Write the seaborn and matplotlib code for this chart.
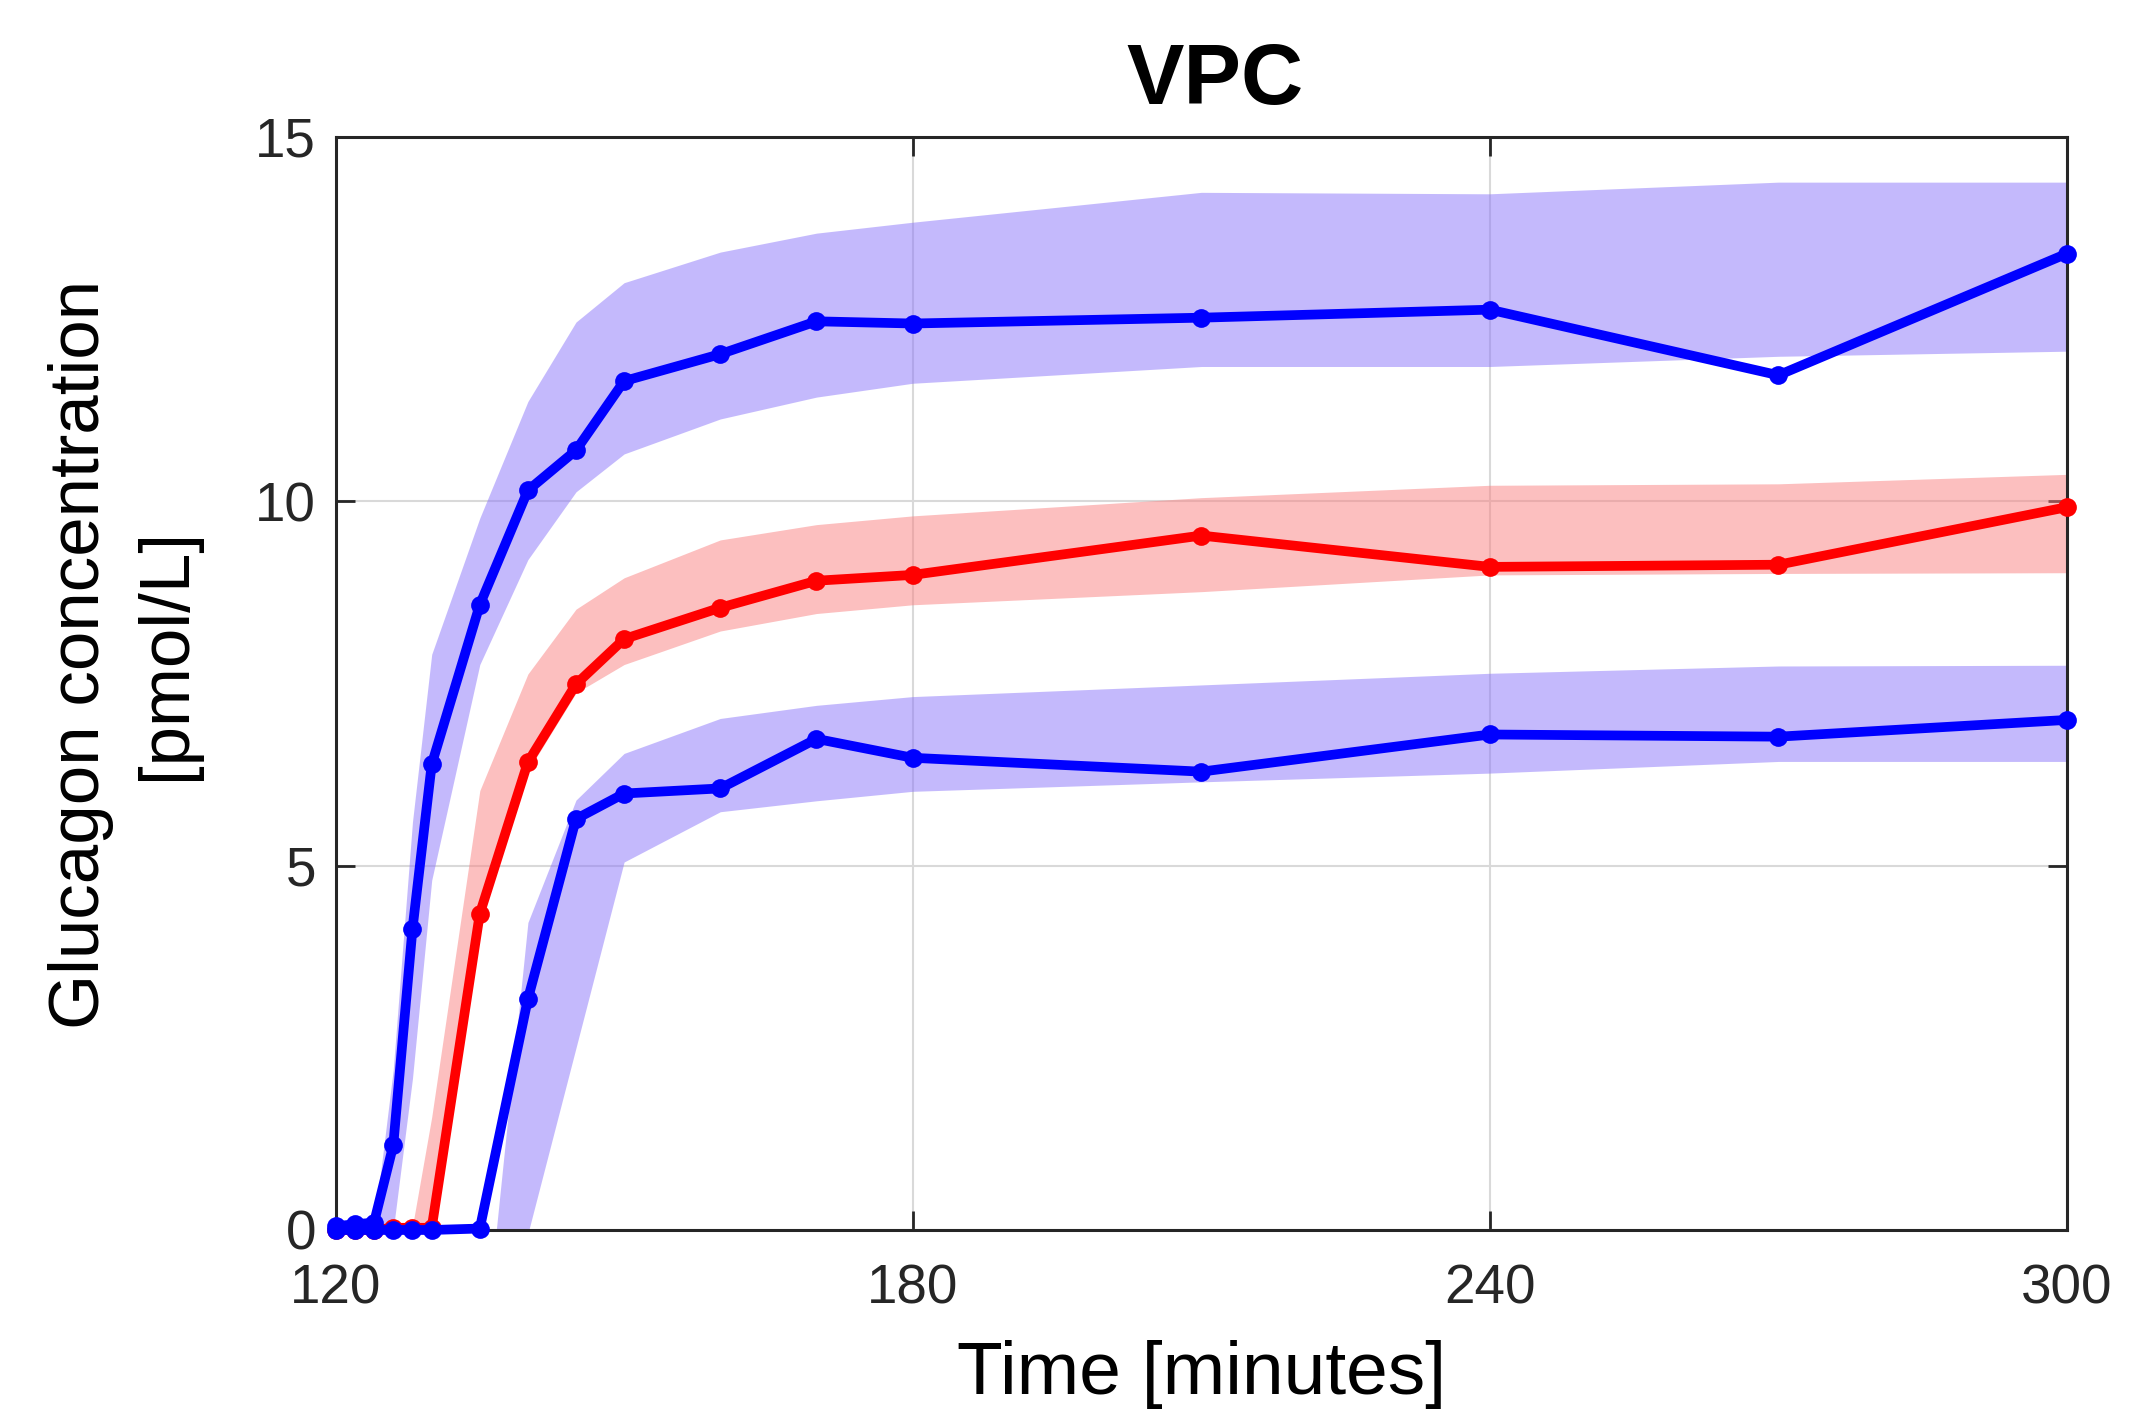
import numpy as np
import pandas as pd
import matplotlib
matplotlib.use("Agg")
import matplotlib.pyplot as plt
import seaborn as sns

# ---------------- data ----------------
times = [120, 122, 124, 126, 128, 130, 135, 140, 145, 150, 160, 170, 180, 210, 240, 270, 300]

upper_obs = [0.05, 0.08, 0.10, 1.16, 4.13, 6.39, 8.58, 10.15, 10.70, 11.65, 12.02, 12.47, 12.44, 12.52, 12.63, 11.73, 13.40]
median_obs = [0.0, 0.0, 0.0, 0.03, 0.03, 0.03, 4.34, 6.42, 7.49, 8.11, 8.54, 8.91, 8.99, 9.53, 9.10, 9.13, 9.92]
lower_obs = [0.0, 0.0, 0.0, 0.0, 0.0, 0.0, 0.02, 3.17, 5.64, 5.99, 6.06, 6.74, 6.48, 6.29, 6.80, 6.77, 7.00]

upper_ci_hi = [0.10, 0.10, 0.05, 2.2, 5.6, 7.9, 9.77, 11.37, 12.46, 13.0, 13.42, 13.68, 13.83, 14.24, 14.22, 14.38, 14.38]
upper_ci_lo = [0.0, 0.0, 0.0, 0.0, 2.08, 4.8, 7.76, 9.2, 10.13, 10.65, 11.13, 11.43, 11.62, 11.85, 11.85, 11.99, 12.06]
median_ci_hi = [0.0, 0.0, 0.0, 0.0, 0.05, 1.55, 6.03, 7.63, 8.52, 8.95, 9.47, 9.68, 9.80, 10.05, 10.22, 10.24, 10.37]
median_ci_lo = [0.0, 0.0, 0.0, 0.0, 0.0, 0.0, 4.2, 6.3, 7.37, 7.76, 8.22, 8.46, 8.58, 8.76, 8.99, 9.01, 9.02]
lower_ci_hi = [0.0, 0.0, 0.0, 0.0, 0.0, 0.0, -2.2, 4.22, 5.9, 6.54, 7.02, 7.20, 7.32, 7.48, 7.64, 7.74, 7.75]
lower_ci_lo = [0.0, 0.0, 0.0, 0.0, 0.0, 0.0, -5.0, -0.05, 2.5, 5.05, 5.74, 5.89, 6.02, 6.15, 6.27, 6.43, 6.43]

x_ticks = [120, 180, 240, 300]
y_ticks = [0, 5, 10, 15]

title_text = "VPC"
x_label = "Time [minutes]"
y_label = "Glucagon concentration\n[pmol/L]"

# ---------------- style ----------------
sns.set_theme(style="white")
plt.rcParams["font.family"] = ["Liberation Sans", "DejaVu Sans"]

BLUE = "#0000FF"
RED = "#FF0000"
BLUE_BAND = (0.54, 0.46, 0.98)
RED_BAND = (0.98, 0.50, 0.50)

fig = plt.figure(figsize=(21.48, 14.12), dpi=100)
ax = fig.add_axes([0.1562, 0.1289, 0.8061, 0.7741])

# bands
ax.fill_between(times, lower_ci_lo, lower_ci_hi, color=BLUE_BAND, alpha=0.5, linewidth=0, zorder=1)
ax.fill_between(times, median_ci_lo, median_ci_hi, color=RED_BAND, alpha=0.5, linewidth=0, zorder=1)
ax.fill_between(times, upper_ci_lo, upper_ci_hi, color=BLUE_BAND, alpha=0.5, linewidth=0, zorder=1)

df = pd.DataFrame({"time": times, "upper": upper_obs, "median": median_obs, "lower": lower_obs})

line_kw = dict(marker="o", ax=ax)
sns.lineplot(data=df, x="time", y="median", color=RED, zorder=3, **line_kw)
sns.lineplot(data=df, x="time", y="lower", color=BLUE, zorder=4, **line_kw)
sns.lineplot(data=df, x="time", y="upper", color=BLUE, zorder=5, **line_kw)
for ln in ax.lines:
    ln.set_clip_on(False)
    ln.set_linewidth(7.0)
    ln.set_markersize(13.5)
    ln.set_markeredgewidth(0)
    ln.set_solid_joinstyle("round")

ax.set_xlim(120, 300)
ax.set_ylim(0, 15)
ax.set_xticks(x_ticks)
ax.set_yticks(y_ticks)
ax.set_xticklabels([str(v) for v in x_ticks])
ax.set_yticklabels([str(v) for v in y_ticks])

ax.set_axisbelow(True)
ax.grid(True, color="#D9D9D9", linewidth=1.5, zorder=0)

for sp in ax.spines.values():
    sp.set_visible(True)
    sp.set_color("#262626")
    sp.set_linewidth(2.2)

ax.tick_params(axis="both", which="both", direction="in", length=14, width=2,
               top=True, right=True, bottom=True, left=True,
               labelsize=39.5, colors="#262626", labelcolor="#262626")
ax.tick_params(axis="x", pad=24)
ax.tick_params(axis="y", pad=14)

ax.set_xlabel(x_label, fontsize=54, color="black", labelpad=18)
ax.set_ylabel(y_label, fontsize=51, color="black", labelpad=40, linespacing=1.39)
ax.yaxis.label.set_y(0.527)
ax.set_title(title_text, fontsize=62, fontweight="bold", color="black", pad=24, x=0.508)

fig.savefig("out.png", dpi=100, facecolor="white")
